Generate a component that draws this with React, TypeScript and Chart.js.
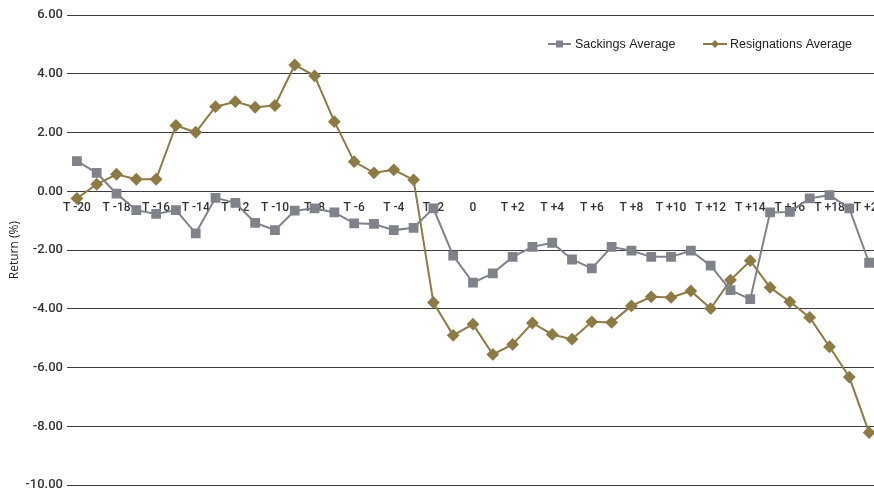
import React, { useEffect, useRef } from "react";
import { Chart, registerables } from "chart.js";

Chart.register(...registerables);

const categories = [
  "T -20", "T -19", "T -18", "T -17", "T -16", "T -15", "T -14", "T -13", "T -12", "T -11",
  "T -10", "T -9", "T -8", "T -7", "T -6", "T -5", "T -4", "T -3", "T -2", "T -1",
  "0",
  "T +1", "T +2", "T +3", "T +4", "T +5", "T +6", "T +7", "T +8", "T +9", "T +10",
  "T +11", "T +12", "T +13", "T +14", "T +15", "T +16", "T +17", "T +18", "T +19", "T +20",
];

const sackingsAverage = [
  1.03, 0.63, -0.08, -0.64, -0.77, -0.64, -1.43, -0.22, -0.39, -1.07,
  -1.32, -0.66, -0.58, -0.72, -1.09, -1.11, -1.32, -1.24, -0.58, -2.19,
  -3.11,
  -2.79, -2.23, -1.89, -1.75, -2.32, -2.62, -1.89, -2.02, -2.23, -2.23,
  -2.02, -2.53, -3.36, -3.67, -0.72, -0.7, -0.24, -0.13, -0.58, -2.43,
];

const resignationsAverage = [
  -0.24, 0.24, 0.58, 0.41, 0.41, 2.24, 2.01, 2.88, 3.05, 2.86,
  2.92, 4.3, 3.93, 2.37, 1.01, 0.63, 0.73, 0.39, -3.78, -4.9,
  -4.52,
  -5.55, -5.21, -4.48, -4.87, -5.03, -4.44, -4.46, -3.9, -3.59, -3.61,
  -3.39, -3.99, -3.02, -2.36, -3.27, -3.76, -4.29, -5.29, -6.32, -8.21,
];

const seriesNames = ["Sackings Average", "Resignations Average"];
const yTickMin = -10;
const yTickMax = 6;
const yTickStep = 2;
const yTitle = "Return (%)";

const GREY = "#80828a";
const GOLD = "#8d7a45";

const legendPlugin = {
  id: "customLegend",
  afterDraw(chart: any) {
    const ctx = chart.ctx;
    ctx.save();
    const y = 44;
    ctx.font = "12.5px 'Liberation Sans', Arial, sans-serif";
    ctx.textBaseline = "middle";
    ctx.textAlign = "left";
    // Sackings
    ctx.strokeStyle = GREY;
    ctx.lineWidth = 2;
    ctx.beginPath();
    ctx.moveTo(548, y);
    ctx.lineTo(571, y);
    ctx.stroke();
    ctx.fillStyle = GREY;
    ctx.fillRect(556, y - 3.5, 7, 7);
    ctx.fillStyle = "#222";
    ctx.fillText(seriesNames[0], 575, y + 0.5);
    // Resignations
    ctx.strokeStyle = GOLD;
    ctx.beginPath();
    ctx.moveTo(703, y);
    ctx.lineTo(727, y);
    ctx.stroke();
    ctx.fillStyle = GOLD;
    ctx.beginPath();
    ctx.moveTo(715, y - 4);
    ctx.lineTo(719, y);
    ctx.lineTo(715, y + 4);
    ctx.lineTo(711, y);
    ctx.closePath();
    ctx.fill();
    ctx.fillStyle = "#222";
    ctx.fillText(seriesNames[1], 730, y + 0.5);
    ctx.restore();
  },
};

export default function App() {
  const ref = useRef<HTMLCanvasElement | null>(null);

  useEffect(() => {
    if (!ref.current) return;
    const chart = new Chart(ref.current, {
      type: "line",
      data: {
        labels: categories,
        datasets: [
          {
            label: seriesNames[0],
            data: sackingsAverage,
            borderColor: GREY,
            backgroundColor: GREY,
            borderWidth: 2,
            pointStyle: "rect",
            pointRadius: 5.5,
            pointHoverRadius: 5.5,
            tension: 0,
            fill: false,
          },
          {
            label: seriesNames[1],
            data: resignationsAverage,
            borderColor: GOLD,
            backgroundColor: GOLD,
            borderWidth: 2,
            pointStyle: "rectRot",
            pointRadius: 5,
            pointHoverRadius: 5,
            tension: 0,
            fill: false,
          },
        ],
      },
      options: {
        animation: false,
        responsive: true,
        maintainAspectRatio: false,
        layout: { padding: { left: 0, right: 21, top: 15, bottom: 6 } },
        plugins: {
          legend: { display: false },
          tooltip: { enabled: false },
        },
        scales: {
          x: {
            type: "category",
            position: { y: 0 } as any,
            offset: true,
            grid: { display: false, drawTicks: false },
            border: { display: false },
            ticks: {
              autoSkip: false,
              maxRotation: 0,
              minRotation: 0,
              padding: 9,
              color: "#333",
              font: { family: "Roboto, sans-serif", size: 12, weight: 500 as any },
              callback: (_v: any, i: number) => (i % 2 === 0 ? categories[i] : ""),
            },
          },
          y: {
            min: yTickMin,
            max: yTickMax,
            afterFit: (scale: any) => {
              scale.width = 67;
            },
            grid: { color: "#3c3c3c", lineWidth: 1, drawTicks: false },
            border: { display: false },
            ticks: {
              stepSize: yTickStep,
              padding: 4,
              color: "#333",
              font: { family: "Roboto, sans-serif", size: 13, weight: 500 as any },
              callback: (v: any) => Number(v).toFixed(2),
            },
            title: {
              display: true,
              text: yTitle,
              color: "#222",
              padding: { top: 7, bottom: 0 },
              font: { family: "'Open Sans', sans-serif", size: 12 },
            },
          },
        },
      },
      plugins: [legendPlugin],
    });
    return () => chart.destroy();
  }, []);

  return (
    <div
      style={{
        position: "fixed",
        left: 0,
        top: 0,
        width: 874,
        height: 491,
        overflow: "hidden",
        background: "#fff",
      }}
    >
      <div style={{ position: "relative", width: 900, height: 497 }}>
        <canvas ref={ref} />
      </div>
    </div>
  );
}
